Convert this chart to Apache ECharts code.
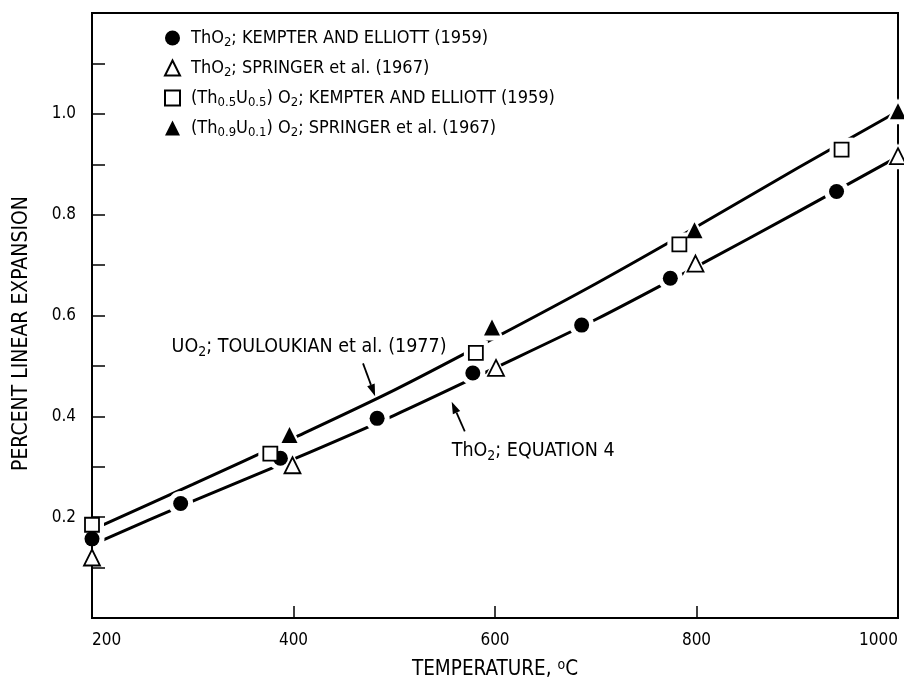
<!DOCTYPE html>
<html>
<head>
<meta charset="utf-8">
<script src="https://cdn.jsdelivr.net/npm/echarts@6/dist/echarts.min.js"></script>
<style>html,body{margin:0;padding:0;background:#fff}#chart{width:904px;height:691px}</style>
</head>
<body>
<div id="chart"></div>
<script>
var FONT = "'Liberation Sans Narrow', 'DejaVu Sans Condensed', 'Liberation Sans', sans-serif";

// ThO2; Kempter and Elliott (1959) - filled circles
var thKempter = [[200, 0.157], [288, 0.227], [387, 0.317], [483, 0.396], [578, 0.486], [686, 0.581], [774, 0.674], [939, 0.846]];
// ThO2; Springer et al. (1967) - open triangles
var thSpringer = [[200, 0.12], [399, 0.303], [601, 0.496], [799, 0.703], [1000, 0.916]];
// (Th0.5U0.5)O2; Kempter and Elliott (1959) - open squares
var thuKempter = [[200, 0.185], [377, 0.326], [581, 0.526], [783, 0.741], [944, 0.929]];
// (Th0.9U0.1)O2; Springer et al. (1967) - filled triangles
var thuSpringer = [[396, 0.363], [597, 0.576], [798, 0.769], [1000, 1.005]];

// curves
var curveT = [200, 300, 400, 500, 600, 700, 800, 900, 1000];
var uo2Curve = [0.175, 0.265, 0.357, 0.452, 0.556, 0.663, 0.776, 0.892, 1.005];
var eq4Curve = [0.145, 0.232, 0.315, 0.402, 0.496, 0.592, 0.697, 0.805, 0.915];

var yTickLabels = ['0.2', '0.4', '0.6', '0.8', '1.0'];
var xTickLabels = ['200', '400', '600', '800', '1000'];

var names = [
    'ThO2; KEMPTER AND ELLIOTT (1959)',
    'ThO2; SPRINGER et al. (1967)',
    '(Th0.5U0.5)O2; KEMPTER AND ELLIOTT (1959)',
    '(Th0.9U0.1)O2; SPRINGER et al. (1967)'
];
var legendRich = {};
legendRich[names[0]] = 'ThO{sub|2}; KEMPTER AND ELLIOTT (1959)';
legendRich[names[1]] = 'ThO{sub|2}; SPRINGER et al. (1967)';
legendRich[names[2]] = '(Th{sub|0.5}U{sub|0.5}) O{sub|2}; KEMPTER AND ELLIOTT (1959)';
legendRich[names[3]] = '(Th{sub|0.9}U{sub|0.1}) O{sub|2}; SPRINGER et al. (1967)';

// annotation anchors (data coords)
var uo2Label = [279, 0.537];
var eq4Label = [557, 0.331];
var uo2Arrow = [[469, 0.505], [481, 0.44]];
var eq4Arrow = [[570, 0.37], [557, 0.429]];

function pairs(xs, ys) {
    return xs.map(function (x, i) { return [x, ys[i]]; });
}

var subStyle = {fontFamily: FONT, fontSize: 13, lineHeight: 10, verticalAlign: 'bottom', color: '#000'};
var supStyle = {fontFamily: FONT, fontSize: 14, lineHeight: 10, verticalAlign: 'top', color: '#000'};

function markers(name, data, symbol, size, filled) {
    return {
        name: name,
        type: 'scatter',
        data: data,
        symbol: symbol,
        symbolSize: size,
        clip: false,
        z: 4,
        itemStyle: {
            color: filled ? '#000' : '#fff',
            borderColor: '#000',
            borderWidth: filled ? 0 : 1.8,
            opacity: 1
        },
        emphasis: {disabled: true}
    };
}

function halo(data, symbol, size) {
    return {
        type: 'scatter',
        data: data,
        symbol: symbol,
        symbolSize: size + 10,
        clip: false,
        silent: true,
        z: 3,
        itemStyle: {color: '#fff', opacity: 1}
    };
}

var chart = echarts.init(document.getElementById('chart'));
var option = {
    animation: false,
    backgroundColor: '#fff',
    textStyle: {fontFamily: FONT, color: '#000'},
    grid: {
        left: 92, right: 6, top: 13, bottom: 73,
        outerBoundsMode: 'none', containLabel: false,
        show: true, borderColor: '#000', borderWidth: 2, backgroundColor: 'transparent'
    },
    legend: {
        data: names,
        orient: 'vertical',
        left: 159,
        top: 22,
        itemGap: 8,
        itemWidth: 15,
        itemHeight: 15,
        selectedMode: false,
        textStyle: {
            fontFamily: FONT, fontSize: 18, color: '#000', lineHeight: 22,
            padding: [0, 0, 0, 6],
            rich: {sub: subStyle}
        },
        formatter: function (n) { return legendRich[n]; }
    },
    xAxis: {
        type: 'value', min: 200, max: 1000, interval: 200, z: 3.5,
        name: 'TEMPERATURE, {sup|o}C',
        nameLocation: 'middle',
        nameGap: 40,
        nameTextStyle: {fontFamily: FONT, fontSize: 20.5, color: '#000', lineHeight: 24, rich: {sup: supStyle}},
        axisLine: {lineStyle: {color: '#000', width: 2}},
        axisTick: {inside: true, length: 12, lineStyle: {color: '#000', width: 1.5}},
        axisLabel: {
            fontFamily: FONT, fontSize: 17, color: '#000', margin: 14,
            alignMinLabel: 'left', alignMaxLabel: 'right',
            formatter: function (v) {
                var s = String(Math.round(v));
                return xTickLabels.indexOf(s) >= 0 ? s : '';
            }
        },
        splitLine: {show: false}
    },
    yAxis: {
        type: 'value', min: 0, max: 1.2, interval: 0.1, z: 3.5,
        name: 'PERCENT LINEAR EXPANSION',
        nameLocation: 'middle',
        nameGap: 60,
        nameTextStyle: {fontFamily: FONT, fontSize: 21, color: '#000', padding: [0, 36, 0, 0]},
        axisLine: {lineStyle: {color: '#000', width: 2}},
        axisTick: {inside: true, length: 13, lineStyle: {color: '#000', width: 1.5}},
        axisLabel: {
            fontFamily: FONT, fontSize: 17, color: '#000', margin: 16,
            formatter: function (v) {
                var s = (Math.round(v * 10) / 10).toFixed(1);
                return yTickLabels.indexOf(s) >= 0 ? s : '';
            }
        },
        splitLine: {show: false}
    },
    series: [
        {
            name: 'UO2 curve', type: 'line', data: pairs(curveT, uo2Curve),
            smooth: 0.3, showSymbol: false, z: 2, silent: true,
            lineStyle: {color: '#000', width: 3}
        },
        {
            name: 'Eq4 curve', type: 'line', data: pairs(curveT, eq4Curve),
            smooth: 0.3, showSymbol: false, z: 2, silent: true,
            lineStyle: {color: '#000', width: 3}
        },
        halo(thKempter, 'circle', 15),
        halo(thSpringer, 'triangle', 16),
        halo(thuKempter, 'rect', 14),
        halo(thuSpringer, 'triangle', 16),
        markers(names[0], thKempter, 'circle', 15, true),
        markers(names[1], thSpringer, 'triangle', 16, false),
        markers(names[2], thuKempter, 'rect', 14, false),
        markers(names[3], thuSpringer, 'triangle', 16, true)
    ]
};
chart.setOption(option);

function toPx(p) {
    return chart.convertToPixel({gridIndex: 0}, p);
}

function arrowGraphics(seg) {
    var a = toPx(seg[0]), b = toPx(seg[1]);
    var dx = b[0] - a[0], dy = b[1] - a[1];
    var len = Math.sqrt(dx * dx + dy * dy);
    var ux = dx / len, uy = dy / len;
    var headL = 12, headW = 4;
    var bx = b[0] - ux * headL, by = b[1] - uy * headL;
    return [
        {
            type: 'line', z: 10, silent: true,
            shape: {x1: a[0], y1: a[1], x2: bx, y2: by},
            style: {stroke: '#000', lineWidth: 1.8}
        },
        {
            type: 'polygon', z: 10, silent: true,
            shape: {points: [[b[0], b[1]], [bx - uy * headW, by + ux * headW], [bx + uy * headW, by - ux * headW]]},
            style: {fill: '#000'}
        }
    ];
}

function label(at, text) {
    var p = toPx(at);
    return {
        type: 'text', x: p[0], y: p[1], z: 10, silent: true,
        style: {
            text: text,
            font: '19.5px ' + FONT, fill: '#000', verticalAlign: 'middle', lineHeight: 24,
            rich: {sub: {fontFamily: FONT, fontSize: 14, lineHeight: 10, verticalAlign: 'bottom', fill: '#000'}}
        }
    };
}

chart.setOption({
    graphic: [
        label(uo2Label, 'UO{sub|2}; TOULOUKIAN et al. (1977)'),
        label(eq4Label, 'ThO{sub|2}; EQUATION 4')
    ].concat(arrowGraphics(uo2Arrow), arrowGraphics(eq4Arrow))
});
</script>
</body>
</html>
